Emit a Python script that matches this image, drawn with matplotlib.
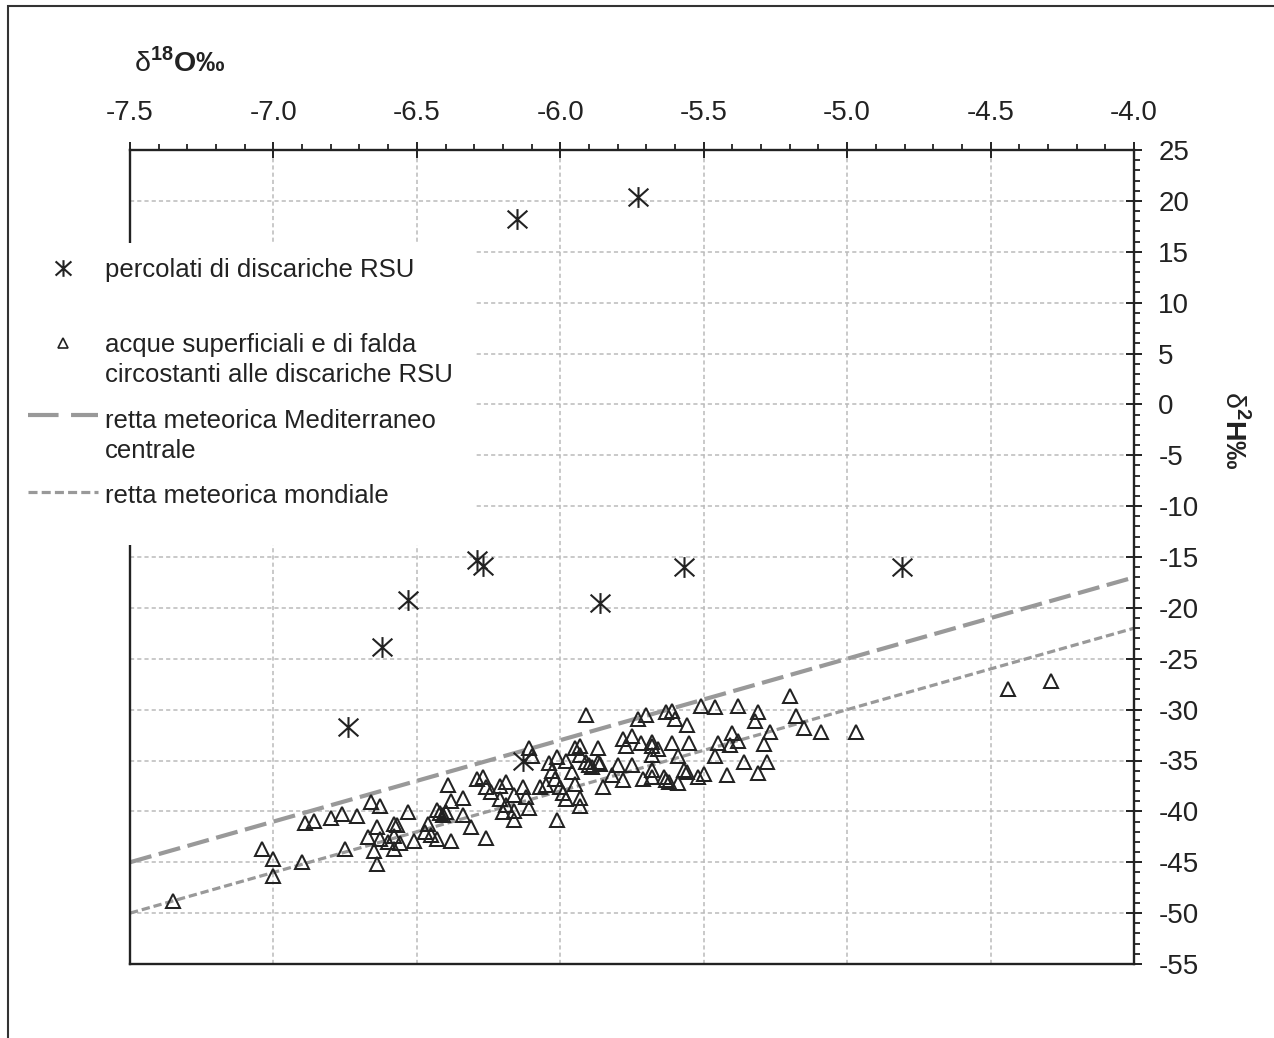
import matplotlib
matplotlib.use("Agg")
import matplotlib.pyplot as plt
from matplotlib.path import Path
from matplotlib.patches import Rectangle
from matplotlib.ticker import MultipleLocator

plt.rcParams['font.family'] = ['Liberation Sans', 'DejaVu Sans']
plt.rcParams['mathtext.fontset'] = 'custom'
plt.rcParams['mathtext.rm'] = 'Liberation Sans'
plt.rcParams['mathtext.bf'] = 'Liberation Sans:bold'
plt.rcParams['lines.scale_dashes'] = False

# percolati di discariche RSU
perc_d18o = [-6.15, -5.73, -6.29, -6.27, -6.53, -5.86, -5.57, -4.81, -6.62, -6.74, -6.13]
perc_d2h = [18.2, 20.4, -15.3, -15.9, -19.2, -19.5, -16.0, -16.0, -23.8, -31.7, -35.0]

# acque superficiali e di falda
water_d18o = [-7.35, -7.04, -7.00, -7.00, -6.90, -6.89, -6.86, -6.80, -6.76, -6.71,
              -6.75, -6.66, -6.63, -6.64, -6.67, -6.63, -6.65, -6.64, -6.60, -6.58,
              -6.57, -6.58, -6.56, -6.58, -6.53, -6.51, -6.46, -6.47, -6.45, -6.43,
              -6.42, -6.41, -6.43, -6.40, -6.39, -6.38, -6.38, -6.34, -6.34, -6.31,
              -6.26, -6.29, -6.27, -6.26, -6.24, -6.21, -6.19, -6.21, -6.19, -6.20,
              -6.16, -6.16, -6.16, -6.13, -6.12, -6.11, -6.11, -6.10, -6.07, -6.05,
              -6.04, -6.03, -6.02, -6.01, -6.00, -5.99, -6.01, -5.98, -5.96, -5.95,
              -5.93, -5.93, -5.98, -5.95, -5.93, -5.93, -5.91, -5.91, -5.90, -5.89,
              -5.87, -5.87, -5.86, -5.85, -5.80, -5.82, -5.78, -5.78, -5.75, -5.77,
              -5.72, -5.75, -5.73, -5.70, -5.68, -5.68, -5.66, -5.68, -5.71, -5.68,
              -5.68, -5.64, -5.63, -5.62, -5.59, -5.63, -5.61, -5.60, -5.56, -5.61,
              -5.55, -5.59, -5.57, -5.56, -5.52, -5.50, -5.51, -5.46, -5.38, -5.45,
              -5.40, -5.41, -5.38, -5.46, -5.42, -5.36, -5.20, -5.18, -5.15, -5.09,
              -4.97, -5.31, -5.32, -5.27, -5.29, -5.28, -5.31, -4.44, -4.29]
water_d2h = [-48.8, -43.7, -44.7, -46.4, -45.0, -41.1, -40.9, -40.7, -40.3, -40.5,
             -43.7, -39.1, -39.5, -41.5, -42.5, -42.7, -43.9, -45.2, -43.0, -41.2,
             -41.3, -42.4, -43.1, -43.7, -40.1, -42.9, -41.2, -42.0, -42.3, -42.7,
             -40.2, -40.4, -39.9, -40.1, -37.4, -39.0, -42.9, -38.7, -40.4, -41.5,
             -42.6, -36.8, -36.6, -37.6, -38.1, -37.5, -37.1, -38.8, -39.4, -40.1,
             -38.4, -40.0, -40.8, -37.6, -38.6, -39.7, -33.8, -34.6, -37.6, -37.4,
             -35.2, -36.0, -36.8, -34.7, -37.6, -38.2, -40.8, -35.0, -36.1, -33.8,
             -33.6, -34.5, -38.8, -37.3, -38.7, -39.5, -30.5, -35.1, -35.4, -35.6,
             -33.8, -35.1, -35.3, -37.6, -35.4, -36.4, -36.9, -32.9, -32.6, -33.6,
             -33.3, -35.4, -30.9, -30.5, -33.2, -33.6, -33.9, -34.5, -36.8, -35.9,
             -36.6, -36.6, -36.9, -37.1, -37.2, -30.2, -30.1, -30.9, -31.5, -33.3,
             -33.3, -34.6, -35.9, -36.1, -36.6, -36.3, -29.6, -29.7, -29.6, -33.3,
             -32.3, -33.5, -33.1, -34.6, -36.4, -35.1, -28.7, -30.6, -31.8, -32.2,
             -32.2, -30.2, -31.1, -32.2, -33.4, -35.1, -36.2, -28.0, -27.2]

# rette meteoriche (estremi)
line_d18o = [-7.5, -4.0]
med_d2h = [-45.0, -17.0]
world_d2h = [-50.0, -22.0]

x_ticks = [-7.5, -7.0, -6.5, -6.0, -5.5, -5.0, -4.5, -4.0]
y_ticks = list(range(-55, 30, 5))

ink = '#222222'
line_grey = '#999999'

# asterisco: barra verticale + croce
star = Path([(0, -1), (0, 1), (-0.95, -0.85), (0.95, 0.85), (-0.95, 0.85), (0.95, -0.85)],
            [Path.MOVETO, Path.LINETO, Path.MOVETO, Path.LINETO, Path.MOVETO, Path.LINETO])

fig = plt.figure(figsize=(12.74, 10.38), dpi=100)
W, H = 1274, 1038
ax = fig.add_axes([130 / W, 1 - 964 / H, 1004 / W, 814 / H])

ax.grid(True, which='major', color='#bbbbbb', linestyle=(0, (3, 2.2)), linewidth=1.1, zorder=0)
ax.set_axisbelow(True)

ax.plot(line_d18o, med_d2h, color=line_grey, linewidth=3.0, linestyle=(0, (16, 5.5)), zorder=2)
ax.plot(line_d18o, world_d2h, color=line_grey, linewidth=2.3, linestyle=(0, (6, 2.8)), zorder=2)

ax.plot(water_d18o, water_d2h, linestyle='none', marker='^', markersize=9.5,
        markerfacecolor='none', markeredgecolor=ink, markeredgewidth=1.45, zorder=3)
ax.plot(perc_d18o, perc_d2h, linestyle='none', marker=star, markersize=15,
        markeredgecolor=ink, markeredgewidth=1.5, zorder=4)

ax.set_xlim(-7.5, -4.0)
ax.set_ylim(-55, 25)
ax.set_xticks(x_ticks)
ax.set_yticks(y_ticks)
ax.set_xticklabels([f'{v:.1f}' for v in x_ticks])
ax.set_yticklabels([str(v) for v in y_ticks])
ax.xaxis.set_minor_locator(MultipleLocator(0.1))
ax.yaxis.set_minor_locator(MultipleLocator(1))
ax.xaxis.tick_top()
ax.yaxis.tick_right()
ax.tick_params(which='major', direction='inout', length=11, width=1.4, color=ink,
               labelsize=20, labelcolor=ink)
ax.tick_params(axis='x', which='major', pad=12)
ax.tick_params(axis='y', which='major', pad=12)
ax.tick_params(which='minor', direction='out', length=4.5, width=1.3, color=ink)
for s in ax.spines.values():
    s.set_linewidth(1.7)
    s.set_color(ink)

fig.text(180 / W, 1 - 62 / H, r'$\mathrm{δ}^{\mathbf{18}}\mathbf{O}$‰', fontsize=20.5,
         fontweight='bold', ha='center', va='center', color=ink)
fig.text(1235 / W, 1 - 430 / H, r'$\mathrm{δ}^{\mathbf{2}}\mathbf{H}$‰', fontsize=20.5,
         fontweight='bold', ha='center', va='center', rotation=270, color=ink)

# legenda (riquadro bianco sopra il grafico)
lg = fig.add_axes([15 / W, 1 - 545 / H, 460 / W, 302 / H])
lg.set_xlim(15, 475)
lg.set_ylim(545, 243)
lg.set_facecolor('white')
lg.set_xticks([])
lg.set_yticks([])
for s in lg.spines.values():
    s.set_visible(False)
fs = 18.5
lg.plot([63], [268], linestyle='none', marker=star, markersize=12,
        markeredgecolor=ink, markeredgewidth=1.5)
lg.text(105, 270, 'percolati di discariche RSU', fontsize=fs, va='center', color=ink)
lg.plot([63], [343], linestyle='none', marker='^', markersize=6.5,
        markerfacecolor='none', markeredgecolor=ink, markeredgewidth=1.2)
lg.text(105, 345, 'acque superficiali e di falda', fontsize=fs, va='center', color=ink)
lg.text(105, 375, 'circostanti alle discariche RSU', fontsize=fs, va='center', color=ink)
lg.plot([28, 98], [415, 415], color=line_grey, linewidth=3.0, linestyle=(0, (22, 9)))
lg.text(105, 421, 'retta meteorica Mediterraneo', fontsize=fs, va='center', color=ink)
lg.text(105, 451, 'centrale', fontsize=fs, va='center', color=ink)
lg.plot([28, 98], [492, 492], color=line_grey, linewidth=2.3, linestyle=(0, (6.5, 3)))
lg.text(105, 496, 'retta meteorica mondiale', fontsize=fs, va='center', color=ink)

# cornice esterna
fig.patches.append(Rectangle((8 / W, -0.05), 1.2, 1.05 - 6 / H, transform=fig.transFigure,
                             fill=False, edgecolor='#333333', linewidth=1.5))

fig.savefig('out.png', dpi=100, facecolor='white')
